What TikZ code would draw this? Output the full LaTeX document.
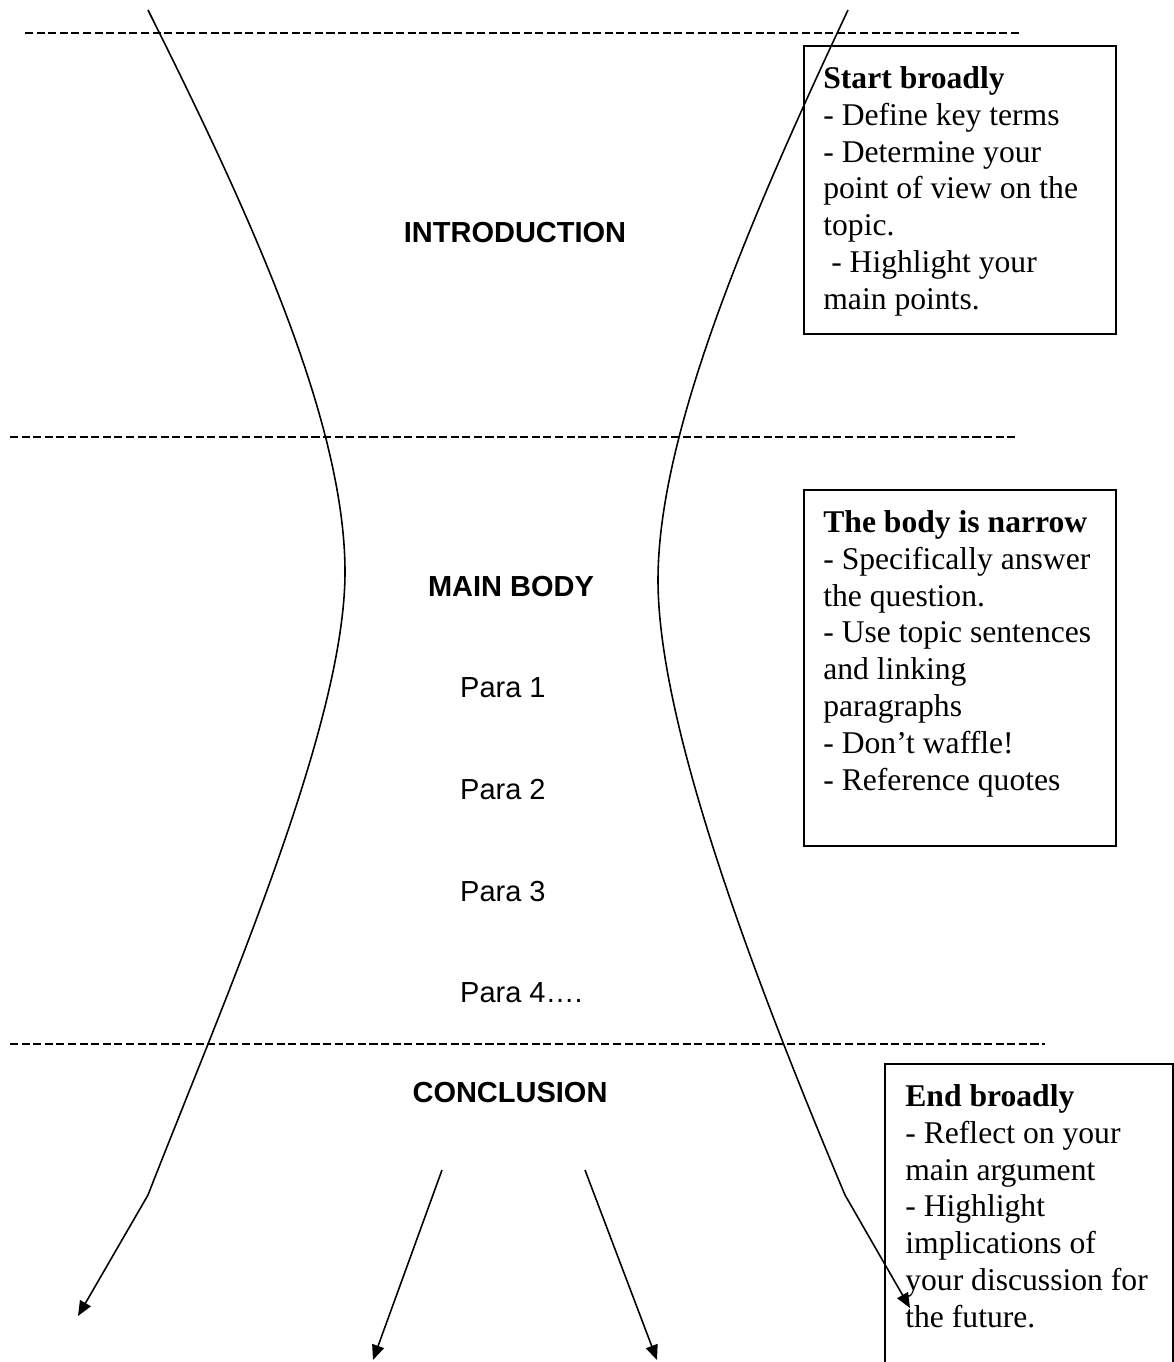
\documentclass[tikz,border=0pt]{standalone}
\usepackage{fontspec}
\setmainfont{Liberation Serif}
\setsansfont{Liberation Sans}
\usetikzlibrary{positioning,arrows.meta}

\tikzset{
  divider/.style={line width=1.1pt, dash pattern=on 4.6pt off 2pt},
  flow/.style={line width=0.9pt},
  tip/.style={-{Triangle[length=8.5pt,width=7pt]}},
  heading/.style={font=\sffamily\bfseries\fontsize{16.5}{19}\selectfont},
  para/.style={font=\sffamily\fontsize{16.5}{19}\selectfont, anchor=west},
  notebox/.style={draw, line width=0.95pt, anchor=north west, inner sep=0pt},
  notetext/.style={font=\fontsize{18}{21}\selectfont, align=left, inner sep=0pt},
}

\begin{document}
\begin{tikzpicture}[x=0.02cm, y=-0.02cm]
        \useasboundingbox (0,0) rectangle (1173,1362);

        % section dividers
        \draw[divider] (25,33) -- (1020,33);
        \draw[divider] (10,437) -- (1015,437);
        \draw[divider] (10,1044) -- (1045,1044);

        % section labels
        \node[heading] (intro) at (515,233) {INTRODUCTION};
        \node[heading] (mainbody) at (511,587) {MAIN BODY};
        \foreach \i/\y in {1/688, 2/790, 3/892}
            \node[para] (para\i) at (454,\y) {Para \i};
        \node[para] (para4) at (454,993) {Para 4….};
        \node[heading] (concl) at (510,1093) {CONCLUSION};

        % the hourglass
        \coordinate (lefttop) at (148,10);
        \coordinate (leftwaist) at (345,572);
        \coordinate (leftkink) at (148,1195);
        \coordinate (lefttip) at (78,1316);
        \coordinate (righttop) at (848,10);
        \coordinate (rightwaist) at (658,580);
        \coordinate (rightkink) at (845,1195);
        \coordinate (righttip) at (910,1308);
        \draw[flow, tip] (lefttop) .. controls (248,210) and (345,420) .. (leftwaist)
            .. controls (345,725) and (226,995) .. (leftkink) -- (lefttip);
        \draw[flow, tip] (righttop) .. controls (754,210) and (658,430) .. (rightwaist)
            .. controls (658,730) and (761,995) .. (rightkink) -- (righttip);

        % conclusion arrows
        \coordinate (midstartA) at (442,1170);
        \coordinate (midtipA) at (373,1360);
        \coordinate (midstartB) at (585,1170);
        \coordinate (midtipB) at (657,1360);
        \draw[flow, tip] (midstartA) -- (midtipA);
        \draw[flow, tip] (midstartB) -- (midtipB);

        % notes
        \node[notebox, minimum width=6.24cm, minimum height=5.76cm] (startbox) at (803,45) {};
        \node[notetext, below right=0.42cm and 0.4cm of startbox.north west] (starttext) {%
            \textbf{Start broadly}\\
            - Define key terms\\
            - Determine your\\
            point of view on the\\
            topic.\\
            \ - Highlight your\\
            main points.};

        \node[notebox, minimum width=6.24cm, minimum height=7.12cm] (bodybox) at (803,489) {};
        \node[notetext, below right=0.42cm and 0.4cm of bodybox.north west] (bodytext) {%
            \textbf{The body is narrow}\\
            - Specifically answer\\
            the question.\\
            - Use topic sentences\\
            and linking\\
            paragraphs\\
            - Don’t waffle!\\
            - Reference quotes};

        \node[notebox, minimum width=5.76cm, minimum height=7cm] (endbox) at (884,1063) {};
        \node[notetext, below right=0.42cm and 0.42cm of endbox.north west] (endtext) {%
            \textbf{End broadly}\\
            - Reflect on your\\
            main argument\\
            - Highlight\\
            implications of\\
            your discussion for\\
            the future.};
\end{tikzpicture}
\end{document}
